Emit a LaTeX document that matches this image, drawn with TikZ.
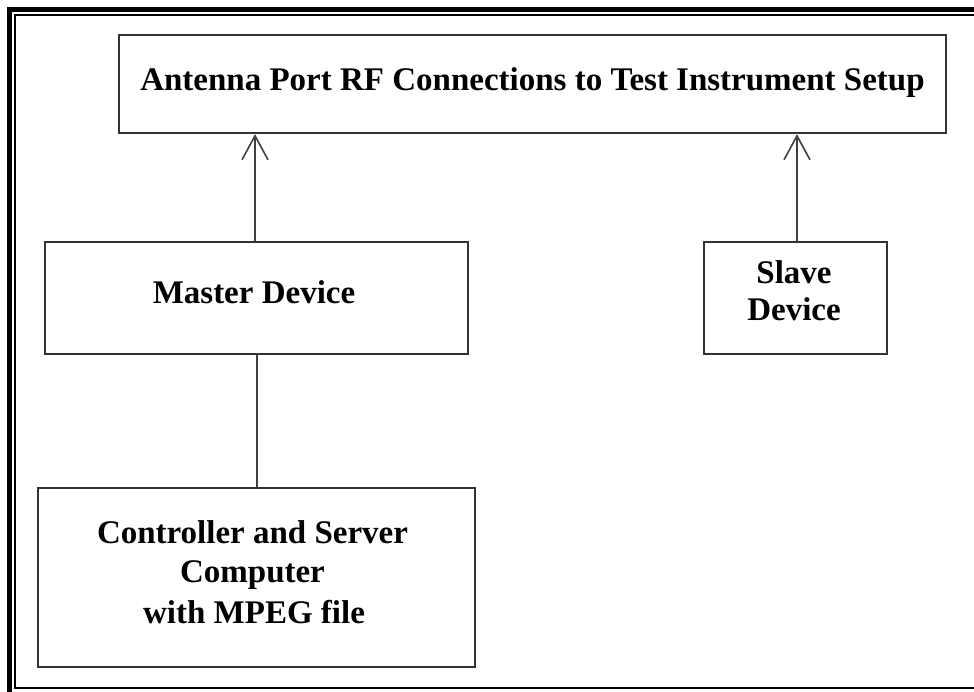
\documentclass[tikz,border=0pt]{standalone}
\usepackage{fontspec}
\setmainfont{Liberation Serif}
\usetikzlibrary{arrows.meta}
\definecolor{boxline}{gray}{0.2}
\definecolor{arrline}{gray}{0.25}
\tikzset{
  box/.style={draw=boxline, line width=2.2pt, minimum width=#1, inner sep=0pt},
  lbl/.style={anchor=base, inner sep=0pt, font=\fontsize{33}{39}\selectfont\bfseries},
  conn/.style={draw=arrline, line width=1.6pt},
  arr/.style={conn, -{Straight Barb[length=24pt, width=26pt, line width=1.6pt]}}
}
\begin{document}
\begin{tikzpicture}[x=1pt, y=-1pt]
\useasboundingbox (0,0) rectangle (974,692);
% frame
\draw[line width=5.5pt] (9.3,692) -- (9.3,9.7) -- (974,9.7);
\draw[line width=2pt] (974,15) -- (15,15) -- (15,688) -- (974,688);
% boxes
\node[box=827pt, minimum height=98pt] (top) at (532.5,84) {};
\node[box=423pt, minimum height=112pt] (master) at (256.5,298) {};
\node[box=183pt, minimum height=112pt] (slave) at (795.5,298) {};
\node[box=437pt, minimum height=179pt] (ctrl) at (256.5,577.5) {};
% texts
\node[lbl] (ttop) at (532.5,91) {Antenna Port RF Connections to Test Instrument Setup};
\node[lbl] (tmaster) at (254,304) {Master Device};
\node[lbl] (tslave1) at (794,284) {Slave};
\node[lbl] (tslave2) at (794,321) {Device};
\node[lbl] (tctrl1) at (252.5,543) {Controller and Server};
\node[lbl] (tctrl2) at (252.5,582) {Computer};
\node[lbl] (tctrl3) at (254,623) {with MPEG file};
% connectors
\draw[arr] (master.north -| 255,0) -- (top.south -| 255,0);
\draw[arr] (slave.north -| 797,0) -- (top.south -| 797,0);
\draw[conn] (master.south -| 257,0) -- (ctrl.north -| 257,0);
\end{tikzpicture}
\end{document}
